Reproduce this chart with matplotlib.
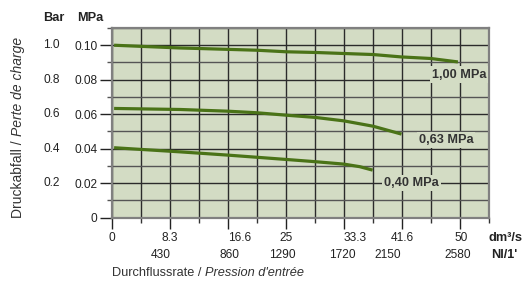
import numpy as np
import matplotlib.pyplot as plt
from matplotlib.ticker import MultipleLocator, FixedLocator, NullFormatter

plt.rcParams['font.family'] = ['Liberation Sans', 'DejaVu Sans']

# Durchfluss in dm3/s, Druckabfall in bar
q_100 = [0.3, 9.8, 12.5, 20.8, 25, 29.2, 33.3, 37.5, 41.6, 45.8, 49.7]
p_100 = [1.0, 0.984, 0.981, 0.971, 0.962, 0.958, 0.952, 0.946, 0.932, 0.923, 0.903]

q_063 = [0.3, 9.8, 16.7, 20.8, 25, 29.2, 33.3, 37.5, 41.6]
p_063 = [0.633, 0.627, 0.617, 0.608, 0.594, 0.581, 0.561, 0.530, 0.484]

q_040 = [0.3, 9.8, 16.7, 25, 29.2, 33.3, 35.6, 37.45]
p_040 = [0.405, 0.381, 0.362, 0.337, 0.324, 0.310, 0.295, 0.275]

kurven = [(q_100, p_100), (q_063, p_063), (q_040, p_040)]
kurven_text = ['1,00 MPa', '0,63 MPa', '0,40 MPa']
text_pos = [(53.8, 0.83), (51.9, 0.45), (47.0, 0.20)]

x_ticks = [0, 50 / 6, 100 / 6, 25, 200 / 6, 250 / 6, 50]
x_labels = ['0', '8.3', '16.6', '25', '33.3', '41.6', '50']
nl_labels = ['', '430', '860', '1290', '1720', '2150', '2580']
nl_shift = [0, -1.4, 0.2, -0.6, -0.3, -2.0, -0.4]   # kleine Verschiebung in dm3/s
x_shift = [0, 0, 1.6, 0, 1.6, 0, 0.2]

y_bar = [0, 0.2, 0.4, 0.6, 0.8, 1.0]
bar_labels = ['', '0.2', '0.4', '0.6', '0.8', '1.0']
mpa_labels = ['0', '0.02', '0.04', '0.06', '0.08', '0.10']

hintergrund = '#d3dcc4'
gruen = '#4a7317'

fig = plt.figure(figsize=(5.3, 2.88), dpi=100)
ax = fig.add_axes([112 / 530, 1 - 217.5 / 288, 377 / 530, 189.5 / 288])
ax.set_facecolor(hintergrund)
ax.set_xlim(0, 13 * 25 / 6)
ax.set_ylim(0, 1.1)

# Gitter
ax.xaxis.set_major_locator(FixedLocator(x_ticks))
ax.xaxis.set_minor_locator(MultipleLocator(25 / 6))
ax.yaxis.set_major_locator(FixedLocator(y_bar))
ax.yaxis.set_minor_locator(MultipleLocator(0.1))
ax.grid(True, which='both', axis='x', color='#2b2b2b', lw=1.0)
ax.grid(True, which='major', axis='y', color='#2b2b2b', lw=1.0)
ax.grid(True, which='minor', axis='y', color='#555555', lw=1.0)
ax.set_axisbelow(True)

ax.tick_params(axis='x', which='major', length=8, width=1.0, color='#222222',
               labelbottom=False)
ax.tick_params(axis='x', which='minor', length=3.5, width=1.0, color='#333333')
ax.tick_params(axis='y', which='major', length=8.6, width=1.0, color='#222222',
               labelsize=8.6, pad=2, labelcolor='#222222')
ax.tick_params(axis='y', which='minor', length=3.6, width=1.0, color='#555555')
ax.set_yticklabels(mpa_labels)
ax.yaxis.set_minor_formatter(NullFormatter())

for s in ax.spines.values():
    s.set_color('#808080')
    s.set_linewidth(1.6)

for (q, p) in kurven:
    ax.plot(q, p, color=gruen, lw=2.3, solid_capstyle='butt', zorder=3)

for txt, (x, y) in zip(kurven_text, text_pos):
    ax.text(x, y, txt, ha='right', va='center', fontsize=9.2, fontweight='bold',
            color='#333333', zorder=4,
            bbox=dict(facecolor=hintergrund, edgecolor='none', pad=1.5))

# Bar-Werte links
ytr = ax.get_yaxis_transform()
for y, lab in zip(y_bar, bar_labels):
    ax.text(-0.138, y, lab, transform=ytr, ha='right', va='center',
            fontsize=8.6, color='#222222')
ax.text(-0.155, 1.158, 'Bar', transform=ytr, ha='center', va='center',
        fontsize=9.2, fontweight='bold', color='#222222')
ax.text(-0.024, 1.158, 'MPa', transform=ytr, ha='right', va='center',
        fontsize=9.2, fontweight='bold', color='#222222')

# x-Beschriftung in zwei Zeilen
xtr = ax.get_xaxis_transform()
for x, lab, dx in zip(x_ticks, x_labels, x_shift):
    ax.text(x + dx, -0.108, lab, transform=xtr, ha='center', va='center',
            fontsize=8.6, color='#222222')
for x, lab, dx in zip(x_ticks, nl_labels, nl_shift):
    ax.text(x + dx, -0.198, lab, transform=xtr, ha='center', va='center',
            fontsize=8.6, color='#222222')
ax.text(1.0, -0.108, 'dm³/s', transform=ax.transAxes, ha='left', va='center',
        fontsize=9.2, fontweight='bold', color='#222222')
ax.text(1.005, -0.198, "Nl/1'", transform=ax.transAxes, ha='left', va='center',
        fontsize=9.2, fontweight='bold', color='#222222')

# Achsentitel
t1 = ax.text(0.0, -0.325, 'Durchflussrate / ', transform=ax.transAxes,
             ha='left', va='bottom', fontsize=9.2, color='#333333')
ax.annotate("Pression d'entrée", xy=(1, 0), xycoords=t1, ha='left', va='bottom',
            fontsize=9.2, style='italic', color='#333333')

t2 = ax.text(-0.25, 0.0, 'Druckabfall / ', transform=ax.transAxes, rotation=90,
             ha='center', va='bottom', fontsize=10, color='#333333')
ax.annotate('Perte de charge', xy=(0.5, 1), xycoords=t2, rotation=90,
            ha='center', va='bottom', fontsize=10, style='italic', color='#333333')

fig.savefig('out.png', dpi=100)
